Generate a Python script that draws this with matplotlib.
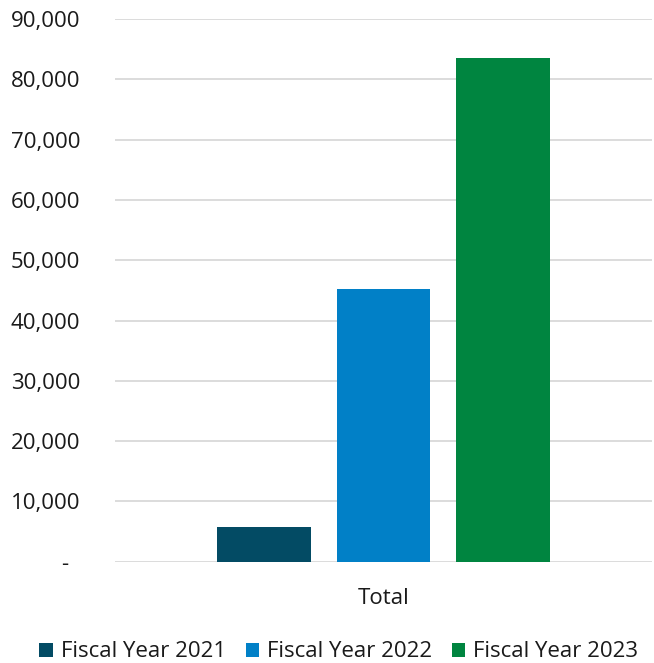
import matplotlib
matplotlib.use("Agg")
import matplotlib.pyplot as plt
from matplotlib.patches import Patch

plt.rcParams['font.family'] = ['Open Sans', 'DejaVu Sans']

category = "Total"
series = ["Fiscal Year 2021", "Fiscal Year 2022", "Fiscal Year 2023"]
values = [5800, 45200, 83500]
colors = ["#034b64", "#0180c7", "#008540"]
yticks = [0, 10000, 20000, 30000, 40000, 50000, 60000, 70000, 80000, 90000]
ytick_labels = ["-  ", "10,000", "20,000", "30,000", "40,000", "50,000",
                "60,000", "70,000", "80,000", "90,000"]

fig = plt.figure(figsize=(6.54, 6.63), dpi=100)
ax = fig.add_axes([0.1758, 0.1528, 0.8212, 0.8185])

offsets = [-0.2216, 0.0, 0.2216]
width = 0.175
for off, v, c, s in zip(offsets, values, colors, series):
    ax.bar(off, v, width=width, color=c, label=s, zorder=3)

ax.set_xlim(-0.5, 0.5)
ax.set_ylim(0, 90000)
ax.set_yticks(yticks)
ax.set_yticklabels(ytick_labels, fontsize=16, color="#1a1a1a")
ax.set_xticks([0])
ax.set_xticklabels([category], fontsize=16, color="#1a1a1a")
ax.tick_params(axis='y', length=0, pad=25)
ax.tick_params(axis='x', length=0, pad=19)
ax.grid(axis='y', color="#d9d9d9", linewidth=1.3, zorder=0)
for sp in ax.spines.values():
    sp.set_visible(False)

handles = [Patch(facecolor=c, label=s) for c, s in zip(colors, series)]
fig.legend(handles=handles, loc='center', bbox_to_anchor=(0.518, 0.0166),
           ncol=3, frameon=False, fontsize=16, handlelength=0.6, handleheight=0.6,
           handletextpad=0.35, columnspacing=0.9, labelcolor="#1a1a1a")

fig.savefig("out.png", dpi=100)
